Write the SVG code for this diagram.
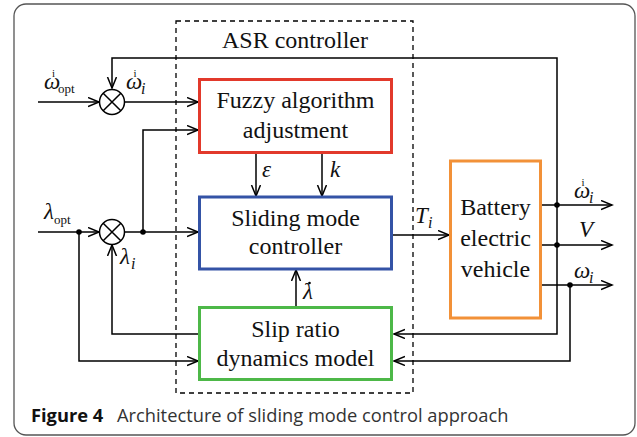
<svg xmlns="http://www.w3.org/2000/svg" width="637" height="437" viewBox="0 0 637 437">
<style>
.ln{fill:none;stroke:#000;stroke-width:1.5}
.ar{marker-end:url(#arr)}
.bx{fill:#fff;stroke-width:3}
.t{font-family:"Liberation Serif","Times New Roman",serif;font-size:24px;fill:#111;text-anchor:middle}
.m{font-family:"Liberation Serif","Times New Roman",serif;font-style:italic;font-size:23px;fill:#111}
.s{font-family:"Liberation Serif","Times New Roman",serif;font-style:normal;font-size:13px;fill:#111}
.acc{font-family:"Liberation Serif","Times New Roman",serif;font-style:normal;font-size:11px;fill:#111}
.si{font-size:16px}
.dot{fill:#000}
.cap{font-family:"Open Sans","Noto Sans",sans-serif;font-size:18.3px;fill:#333}
</style>
<defs>
<marker id="arr" markerUnits="userSpaceOnUse" markerWidth="14" markerHeight="12" refX="11" refY="5" orient="auto" viewBox="0 0 14 12">
<path d="M0,0.5 L11,5 L0,9.5" fill="none" stroke="#000" stroke-width="1.5"/>
</marker>
</defs>
<rect x="14" y="4" width="621" height="431" rx="12" fill="#fff" stroke="#555" stroke-width="1.3"/>
<g id="asr-controller">
<rect x="176" y="21" width="237" height="372" fill="none" stroke="#000" stroke-width="1.3" stroke-dasharray="5,4"/>
<text class="t" x="295" y="48">ASR controller</text>
</g>
<g id="connectors">
<path class="ln ar" d="M557,205 L557,58 L112,58 L112,88"/>
<path class="ln ar" d="M557,205 L557,334 L394,334"/>
<path class="ln ar" d="M541,205 L612,205"/>
<path class="ln ar" d="M541,245 L612,245"/>
<path class="ln ar" d="M541,285 L612,285"/>
<path class="ln ar" d="M570,285 L570,361 L394,361"/>
<path class="ln ar" d="M38,102 L99,102"/>
<path class="ln ar" d="M125,102 L198,102"/>
<path class="ln ar" d="M38,232 L99,232"/>
<path class="ln ar" d="M79,232 L79,361 L198,361"/>
<path class="ln ar" d="M125,232 L198,232"/>
<path class="ln ar" d="M143,232 L143,130 L198,130"/>
<path class="ln ar" d="M198,334 L112,334 L112,245"/>
<path class="ln ar" d="M256,153 L256,196"/>
<path class="ln ar" d="M322,153 L322,196"/>
<path class="ln ar" d="M296,307 L296,270"/>
<path class="ln ar" d="M392,235 L449,235"/>
<circle class="dot" cx="557" cy="205" r="2.8"/>
<circle class="dot" cx="557" cy="245" r="2.8"/>
<circle class="dot" cx="570" cy="285" r="2.8"/>
<circle class="dot" cx="79" cy="232" r="2.8"/>
<circle class="dot" cx="143" cy="232" r="2.8"/>
</g>
<g id="sum1">
<circle cx="112" cy="102" r="12.5" fill="#fff" stroke="#000" stroke-width="1.5"/>
<path class="ln" d="M103.2,93.2 L120.8,110.8 M120.8,93.2 L103.2,110.8"/>
</g>
<g id="sum2">
<circle cx="112" cy="232" r="12.5" fill="#fff" stroke="#000" stroke-width="1.5"/>
<path class="ln" d="M103.2,223.2 L120.8,240.8 M120.8,223.2 L103.2,240.8"/>
</g>
<g id="fuzzy">
<rect class="bx" x="199.5" y="79.5" width="192" height="73" stroke="#E2392B"/>
<text class="t" x="295.5" y="108">Fuzzy algorithm</text>
<text class="t" x="295.5" y="138">adjustment</text>
</g>
<g id="sliding">
<rect class="bx" x="199.5" y="197" width="192" height="72" stroke="#3453A6"/>
<text class="t" x="295.5" y="226">Sliding mode</text>
<text class="t" x="295.5" y="254">controller</text>
</g>
<g id="slip">
<rect class="bx" x="199.5" y="307.5" width="192" height="72" stroke="#4DB848"/>
<text class="t" x="295.5" y="337">Slip ratio</text>
<text class="t" x="295.5" y="366">dynamics model</text>
</g>
<g id="battery">
<rect class="bx" x="450.5" y="161" width="90" height="157" stroke="#F29138"/>
<text class="t" x="495.5" y="215">Battery</text>
<text class="t" x="495.5" y="246">electric</text>
<text class="t" x="495.5" y="277">vehicle</text>
</g>
<g id="labels">
<text class="acc" x="52" y="77">i</text>
<text class="m"><tspan x="44" y="89">ω</tspan><tspan class="s" x="58" y="93">opt</tspan></text>
<text class="acc" x="133.5" y="77">i</text>
<text class="m"><tspan x="126" y="89">ω</tspan><tspan class="si" x="141" y="94">i</tspan></text>
<text class="m"><tspan x="44" y="219">λ</tspan><tspan class="s" x="54" y="224">opt</tspan></text>
<text class="m"><tspan x="120" y="264">λ</tspan><tspan class="si" x="131" y="269">i</tspan></text>
<text class="m" x="262" y="177">ε</text>
<text class="m" x="330" y="177">k</text>
<text class="m" x="303" y="299">λ</text>
<circle class="dot" cx="309.5" cy="283" r="1.3"/>
<text class="m"><tspan x="415" y="223">T</tspan><tspan class="si" x="428" y="228">i</tspan></text>
<text class="acc" x="581.5" y="186">i</text>
<text class="m"><tspan x="574" y="198">ω</tspan><tspan class="si" x="589" y="203">i</tspan></text>
<text class="m" x="579" y="237" font-size="17">V</text>
<text class="m"><tspan x="574" y="278">ω</tspan><tspan class="si" x="589" y="283">i</tspan></text>
</g>
<text class="cap" x="31" y="422"><tspan font-weight="bold" fill="#111">Figure 4</tspan><tspan x="117">Architecture of sliding mode control approach</tspan></text>
</svg>
